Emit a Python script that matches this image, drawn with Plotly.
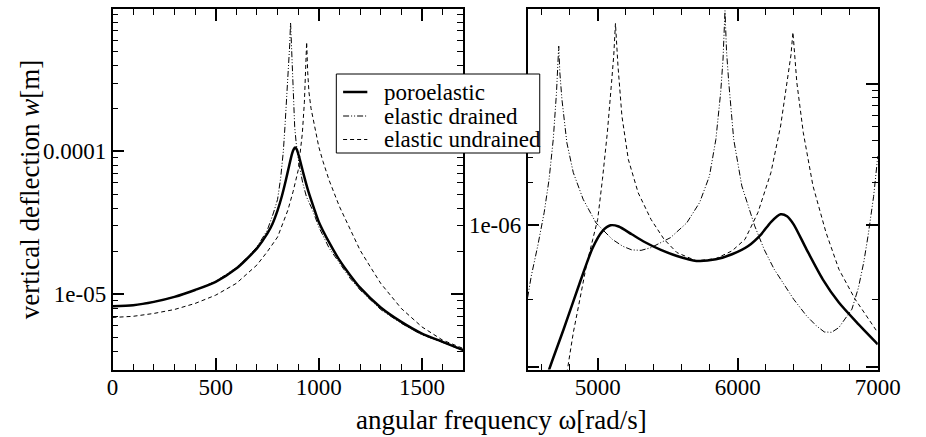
import plotly.graph_objects as go

# ---------------- data ----------------
# Left panel: 0 .. 1700 rad/s
left_poro_x = [0, 100, 200, 300, 400, 500, 600, 650, 700, 750, 775, 800, 820, 840, 855, 870, 878,
               885, 893, 902, 912, 925, 950, 975, 1000, 1050, 1100, 1150, 1200, 1300, 1400, 1500,
               1600, 1700]
left_poro_y = [8.24e-6, 8.37e-6, 8.83e-6, 9.57e-6, 1.07e-5, 1.22e-5, 1.51e-5, 1.76e-5, 2.09e-5,
               2.65e-5, 3.1e-5, 3.86e-5, 4.8e-5, 6.26e-5, 7.8e-5, 9.6e-5, 1.03e-4, 1.06e-4,
               1.03e-4, 9.4e-5, 8.3e-5, 7.0e-5, 5.19e-5, 4.05e-5, 3.2e-5, 2.3e-5, 1.73e-5,
               1.37e-5, 1.11e-5, 8.07e-6, 6.4e-6, 5.3e-6, 4.64e-6, 4.06e-6]

left_drained_x = [0, 100, 200, 300, 400, 500, 600, 650, 700, 750, 780, 800, 815, 828, 836, 844,
                  850, 855, 859, 863, 867, 871, 876, 883, 890, 898, 905, 922, 940, 969, 1000,
                  1050, 1100, 1150, 1200, 1250, 1300, 1400, 1500, 1600, 1700]
left_drained_y = [8.24e-6, 8.37e-6, 8.83e-6, 9.57e-6, 1.07e-5, 1.23e-5, 1.53e-5, 1.79e-5, 2.14e-5,
                  2.8e-5, 3.7e-5, 4.6e-5, 6.5e-5, 1.0e-4, 1.5e-4, 2.28e-4, 3.2e-4, 4.33e-4, 5.6e-4,
                  8.0e-4, 5.6e-4, 3.89e-4, 2.5e-4, 1.48e-4, 1.15e-4, 9.1e-5, 8.0e-5, 6.0e-5,
                  4.8e-5, 3.9e-5, 2.95e-5, 2.1e-5, 1.65e-5, 1.3e-5, 1.07e-5, 9.1e-6, 7.8e-6,
                  6.25e-6, 5.2e-6, 4.6e-6, 4.03e-6]

left_undrained_x = [0, 100, 200, 300, 400, 500, 600, 700, 750, 800, 850, 875, 900, 910, 920, 930,
                    936, 941, 946, 952, 962, 970, 985, 1000, 1020, 1050, 1100, 1150, 1200, 1250,
                    1300, 1400, 1500, 1600, 1700]
left_undrained_y = [6.87e-6, 7.0e-6, 7.33e-6, 7.81e-6, 8.61e-6, 9.84e-6, 1.19e-5, 1.6e-5, 1.98e-5,
                    2.51e-5, 3.87e-5, 5.2e-5, 7.37e-5, 9.8e-5, 1.33e-4, 2.2e-4, 3.4e-4, 5.8e-4,
                    3.6e-4, 2.6e-4, 2.0e-4, 1.74e-4, 1.33e-4, 1.07e-4, 8.5e-5, 6.26e-5, 4.1e-5,
                    2.85e-5, 2.03e-5, 1.55e-5, 1.19e-5, 7.94e-6, 5.9e-6, 4.77e-6, 4.17e-6]

# Right panel: 4500 .. 7000 rad/s
right_poro_x = [4640, 4653, 4757, 4873, 4965, 5034, 5092, 5150, 5243, 5335, 5451, 5566, 5705,
                5844, 5959, 6075, 6167, 6237, 6306, 6352, 6399, 6491, 6607, 6722, 6861, 7000]
right_poro_y = [8.5e-8, 9.5e-8, 1.84e-7, 3.94e-7, 6.95e-7, 9.1e-7, 1.0e-6, 9.8e-7, 8.64e-7,
                7.62e-7, 6.7e-7, 6.07e-7, 5.6e-7, 5.75e-7, 6.24e-7, 7.14e-7, 8.64e-7, 1.055e-6,
                1.197e-6, 1.16e-6, 1.016e-6, 6.76e-7, 4.15e-7, 2.84e-7, 2.0e-7, 1.44e-7]

right_drained_x = [4500, 4526, 4572, 4618, 4653, 4683, 4706, 4714, 4722, 4730, 4745, 4780, 4826,
                   4896, 4988, 5104, 5180, 5243, 5310, 5381, 5450, 5520, 5636, 5728, 5798, 5844,
                   5878, 5895, 5909, 5920, 5936, 5971, 6029, 6121, 6190, 6260, 6399, 6491, 6560,
                   6618, 6670, 6722, 6815, 6861, 6900, 6931, 6970, 7000]
right_drained_y = [3.08e-7, 4.38e-7, 7.14e-7, 1.23e-6, 2.11e-6, 4.06e-6, 8.67e-6, 1.25e-5,
                   1.85e-5, 1.2e-5, 7.76e-6, 3.84e-6, 2.36e-6, 1.53e-6, 1.04e-6, 7.96e-7, 7.1e-7,
                   6.7e-7, 6.65e-7, 6.95e-7, 7.5e-7, 8.18e-7, 1.04e-6, 1.45e-6, 2.23e-6, 4.06e-6,
                   8.67e-6, 1.5e-5, 3.3e-5, 1.7e-5, 1.02e-5, 4.06e-6, 1.9e-6, 9.9e-7, 6.7e-7,
                   4.89e-7, 3.0e-7, 2.29e-7, 1.95e-7, 1.76e-7, 1.75e-7, 1.89e-7, 2.55e-7, 3.6e-7,
                   5.5e-7, 8.5e-7, 1.6e-6, 3.09e-6]

right_undrained_x = [4780, 4826, 4873, 4919, 4965, 5000, 5034, 5069, 5099, 5115, 5127, 5136, 5145,
                     5173, 5219, 5289, 5381, 5474, 5566, 5705, 5844, 5959, 6052, 6144, 6237, 6306,
                     6352, 6380, 6394, 6405, 6422, 6468, 6537, 6630, 6722, 6838, 6931, 7000]
right_undrained_y = [9.0e-8, 1.74e-7, 3.0e-7, 5.16e-7, 7.96e-7, 1.1e-6, 2.11e-6, 4.52e-6, 1.02e-5,
                     1.6e-5, 2.68e-5, 1.8e-5, 1.34e-5, 5.93e-6, 2.92e-6, 1.7e-6, 1.1e-6, 7.96e-7,
                     6.41e-7, 5.6e-7, 5.81e-7, 6.59e-7, 7.96e-7, 1.23e-6, 2.36e-6, 5.04e-6,
                     1.02e-5, 1.6e-5, 2.32e-5, 1.6e-5, 1.02e-5, 4.52e-6, 1.9e-6, 8.9e-7, 4.89e-7,
                     3.0e-7, 2.17e-7, 1.74e-7]

series_names = ["poroelastic", "elastic drained", "elastic undrained"]

left_xticks = [0, 500, 1000, 1500]
left_xminor = [100, 200, 300, 400, 600, 700, 800, 900, 1100, 1200, 1300, 1400, 1600]
left_yticks = [1e-5, 1e-4]
left_yticktext = ["1e-05", "0.0001"]
left_yminor = [4e-6, 5e-6, 6e-6, 7e-6, 8e-6, 9e-6,
               2e-5, 3e-5, 4e-5, 5e-5, 6e-5, 7e-5, 8e-5, 9e-5,
               2e-4, 3e-4, 4e-4, 5e-4, 6e-4, 7e-4, 8e-4, 9e-4]
right_xticks = [5000, 6000, 7000]
right_xminor = [4600, 4800, 5200, 5400, 5600, 5800, 6200, 6400, 6600, 6800]
right_yticks = [1e-7, 1e-6, 1e-5]
right_yticktext = ["", "1e-06", ""]
right_yminor = [3e-7, 2e-6, 3e-6, 4e-6, 5e-6, 6e-6, 7e-6, 8e-6, 9e-6]

# ---------------- figure ----------------
FONT = "Liberation Serif"
W, H = 926, 437

styles = [dict(color="black", width=2.5, dash="solid", shape="spline", smoothing=0.7),
          dict(color="black", width=1, dash="6px,2px,1px,2px,1px,2px"),
          dict(color="black", width=1, dash="4px,3px")]

fig = go.Figure()
left_sets = [(left_poro_x, left_poro_y), (left_drained_x, left_drained_y),
             (left_undrained_x, left_undrained_y)]
right_sets = [(right_poro_x, right_poro_y), (right_drained_x, right_drained_y),
              (right_undrained_x, right_undrained_y)]
for i, (xs, ys) in enumerate(left_sets):
    fig.add_trace(go.Scatter(x=xs, y=ys, mode="lines", line=styles[i], name=series_names[i],
                             xaxis="x", yaxis="y", showlegend=False))
for i, (xs, ys) in enumerate(right_sets):
    fig.add_trace(go.Scatter(x=xs, y=ys, mode="lines", line=styles[i], name=series_names[i],
                             xaxis="x2", yaxis="y2", showlegend=False))

xdom_l = [110 / W, 472 / W]
xdom_r = [538.5 / W, 900 / W]
ydom = [1 - 369.5 / H, 1 - 9 / H]
tickfont = dict(family=FONT, size=23, color="black")


def axis(minor_vals, **kw):
    d = dict(showline=True, linecolor="black", linewidth=1.5, mirror="allticks",
             ticks="inside", ticklen=12, tickwidth=1.5, tickcolor="black",
             showgrid=False, zeroline=False, tickfont=tickfont, tickmode="array",
             minor=dict(tickmode="array", tickvals=minor_vals, ticks="inside", ticklen=6,
                        tickwidth=1.2, tickcolor="black", showgrid=False))
    d.update(kw)
    return d


fig.update_layout(
    width=W, height=H, margin=dict(l=0, r=0, t=0, b=0), autosize=False,
    paper_bgcolor="white", plot_bgcolor="white",
    font=dict(family=FONT, color="black"),
    showlegend=False,
    xaxis=axis(left_xminor, domain=xdom_l, range=[0, 1700], tickvals=left_xticks, anchor="y",
               ticklabelstandoff=-4),
    yaxis=axis(left_yminor, domain=ydom, type="log", range=[-5.527, -3.005],
               tickvals=left_yticks, ticktext=left_yticktext, anchor="x"),
    xaxis2=axis(right_xminor, domain=xdom_r, range=[4500, 7000], tickvals=right_xticks,
                anchor="y2", ticklabelstandoff=-4),
    yaxis2=axis(right_yminor, domain=ydom, type="log", range=[-7.02, -4.47],
                tickvals=right_yticks, ticktext=right_yticktext, anchor="x2"),
)

# ----- legend box (drawn above the curves, as in the reference) -----
def px(xp):
    return xp / W


def py(yp):
    return 1 - yp / H


fig.add_shape(type="rect", xref="paper", yref="paper", x0=px(341), x1=px(551),
              y0=py(153), y1=py(74), fillcolor="white", line=dict(color="black", width=1),
              layer="above")
legend_rows = [92, 116, 139.5]
for i, name in enumerate(series_names):
    st = styles[i]
    fig.add_shape(type="line", xref="paper", yref="paper", x0=px(348), x1=px(373),
                  y0=py(legend_rows[i]), y1=py(legend_rows[i]),
                  line=dict(color="black", width=st["width"], dash=st["dash"]), layer="above")
    fig.add_annotation(text=name, xref="paper", yref="paper", x=px(388), y=py(legend_rows[i]),
                       xanchor="left", yanchor="middle", showarrow=False,
                       font=dict(family=FONT, size=23, color="black"))

fig.add_annotation(text="angular frequency \u03c9[rad/s]", xref="paper", yref="paper",
                   x=px(512), y=py(420), xanchor="center", yanchor="middle",
                   showarrow=False, font=dict(family=FONT, size=27, color="black"))
fig.add_annotation(text="vertical deflection <i>w</i>[m]", xref="paper", yref="paper",
                   x=px(25), y=py(190), xanchor="center", yanchor="middle", textangle=-90,
                   showarrow=False, font=dict(family=FONT, size=27, color="black"))

fig.write_html("out.html")
